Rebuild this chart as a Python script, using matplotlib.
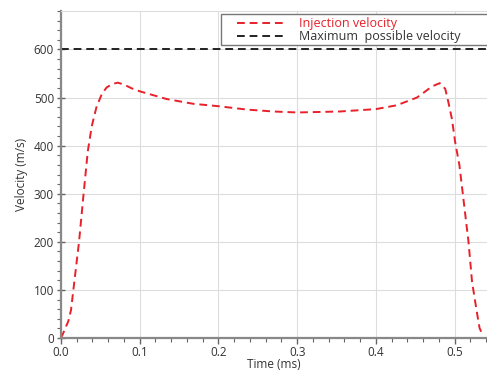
import matplotlib.pyplot as plt
from matplotlib.patches import Rectangle
from matplotlib.ticker import MultipleLocator

plt.rcParams['font.family'] = ['Open Sans', 'DejaVu Sans']

# injection velocity history (time in ms, velocity in m/s)
tempo = [0.0, 0.002, 0.0093, 0.0127, 0.0157, 0.0229, 0.0284, 0.034, 0.039, 0.045,
         0.052, 0.058, 0.065, 0.072, 0.080, 0.090, 0.100, 0.134, 0.168, 0.200,
         0.236, 0.270, 0.300, 0.354, 0.400, 0.4265, 0.452, 0.462, 0.471, 0.481,
         0.488, 0.492, 0.4965, 0.5006, 0.506, 0.511, 0.5175, 0.522, 0.528, 0.5315,
         0.536]
velocidade = [0, 7, 35, 58, 100, 200, 295, 388, 440, 480,
              508, 521, 528, 531, 527, 519, 513, 497, 487, 482,
              475, 471, 469, 471, 476, 484, 500, 512, 523, 530,
              518, 490, 455, 407, 359, 290, 200, 117, 55, 21,
              4]

v_max = 600

fig = plt.figure(figsize=(4.87, 3.71), dpi=100)
ax = fig.add_axes([61 / 487, 33 / 371, 1 - 61 / 487, 327 / 371])

ax.plot(tempo, velocidade, color='#e8202a', ls=(0, (4, 2.5)), lw=1.4,
        label='Injection velocity')
ax.axhline(v_max, color='#222222', ls=(0, (4, 2.5)), lw=1.4,
           label='Maximum  possible velocity')

ax.set_xlim(0, 0.541)
ax.set_ylim(0, 680)
ax.xaxis.set_major_locator(MultipleLocator(0.1))
ax.xaxis.set_minor_locator(MultipleLocator(0.02))
ax.yaxis.set_major_locator(MultipleLocator(100))
ax.yaxis.set_minor_locator(MultipleLocator(20))
ax.set_xticks([0.0, 0.1, 0.2, 0.3, 0.4, 0.5])
ax.set_xticklabels(['0.0', '0.1', '0.2', '0.3', '0.4', '0.5'])

ax.grid(True, color='#dddddd', lw=0.8)
ax.set_axisbelow(True)
for lado in ['left', 'bottom']:
    ax.spines[lado].set_color('#888888')
    ax.spines[lado].set_linewidth(1.6)
ax.spines['top'].set_color('#dddddd')
ax.spines['top'].set_linewidth(0.8)
ax.spines['right'].set_visible(False)

ax.tick_params(which='major', length=4, width=1, color='#666666',
               labelsize=8.5, labelcolor='#333333', pad=2)
ax.tick_params(axis='x', which='major', pad=1.5)
ax.tick_params(axis='y', which='major', direction='inout', length=6)
ax.tick_params(which='minor', length=3, width=0.8, color='#666666')

ax.set_xlabel('Time (ms)', fontsize=8.5, color='#333333', labelpad=-0.5)
ax.set_ylabel('Velocity (m/s)', fontsize=8.5, color='#333333', labelpad=4)

# legend box running off the right edge of the figure
caixa = Rectangle((0.3756, 0.8967), 0.7, 0.0942, transform=ax.transAxes,
                  facecolor='white', edgecolor='#777777', lw=1.0,
                  clip_on=False, zorder=4)
ax.add_patch(caixa)

leg = ax.legend(loc='upper left', bbox_to_anchor=(0.4131, 0.982), fontsize=9,
                frameon=False, handlelength=3.7, borderpad=0,
                labelspacing=0.0, handletextpad=1.3, borderaxespad=0)
leg.set_zorder(5)
leg.texts[0].set_color('#e8202a')
leg.texts[1].set_color('#333333')

fig.savefig('out.png', dpi=100)
